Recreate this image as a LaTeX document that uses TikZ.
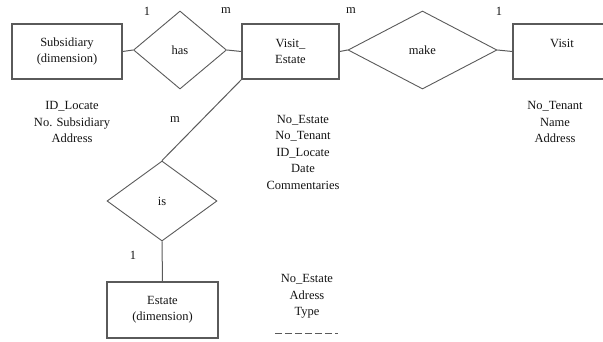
\documentclass[tikz,border=0pt]{standalone}
\usepackage{fontspec}
\setmainfont{Liberation Serif}
\usepackage{tikz}
\usetikzlibrary{shapes.geometric, positioning, calc}
\definecolor{erline}{RGB}{90, 90, 90}
\definecolor{ertext}{RGB}{20, 20, 20}
\tikzset{
  entity/.style={rectangle, draw=erline, line width=1.3pt, minimum width=#1,
                 minimum height=55pt, align=center, inner sep=0pt, text=ertext,
                 font=\fontsize{12.5}{16}\selectfont},
  entity/.default=110pt,
  relation/.style={diamond, draw=erline, line width=0.9pt, inner sep=0pt,
                   text=ertext, font=\fontsize{12.5}{16}\selectfont},
  attrs/.style={align=center, inner sep=0pt, text=ertext,
                font=\fontsize{12.5}{16.5}\selectfont},
  card/.style={inner sep=0pt, text=ertext, font=\fontsize{12.5}{14}\selectfont},
  link/.style={draw=erline, line width=1pt},
}

\begin{document}
\begin{tikzpicture}[x=1pt, y=-1pt]
        \useasboundingbox (0,0) rectangle (603,341);
        \clip (0,0) rectangle (603,341);
        % entities
        \node[entity=110pt] (sub) at (67,51.5) {Subsidiary\\(dimension)};
        \node[entity=97pt] (ve) at (290.5,51.5) {Visit\_\\Estate};
        \node[entity=98pt] (visit) at (562,51.5) {Visit\\\mbox{}};
        \node[entity=111pt, minimum height=56pt] (estate) at (162.5,310) {Estate\\(dimension)};
        % relations
        \node[relation, minimum width=93pt, minimum height=78pt] (has) at (180,50) {has};
        \node[relation, minimum width=149pt, minimum height=78pt] (make) at (422.5,50) {make};
        \node[relation, minimum width=110pt, minimum height=80pt] (is) at (162,201) {is};
        % connectors
        \draw[link] (sub.east) -- (has.west);
        \draw[link] (has.east) -- (ve.west);
        \draw[link] (ve.east) -- (make.west);
        \draw[link] (make.east) -- (visit.west);
        \draw[link] (ve.south west) -- (is.north);
        \draw[link] (is.south) -- (estate.north);
        % cardinalities
        \node[card] (c1) at (147,11) {1};
        \node[card] (c2) at (226,11) {m};
        \node[card] (c3) at (351,11) {m};
        \node[card] (c4) at (499,11) {1};
        \node[card] (c5) at (175,120) {m};
        \node[card] (c6) at (133,255) {1};
        % attributes
        \node[attrs] (subattr) at (72,122) {ID\_Locate\\No. Subsidiary\\Address};
        \node[attrs] (veattr) at (303,152) {No\_Estate\\No\_Tenant\\ID\_Locate\\Date\\Commentaries};
        \node[attrs] (visitattr) at (555,122) {No\_Tenant\\Name\\Address};
        \node[attrs] (estattr) at (307,296.5) {No\_Estate\\Adress\\Type};
        \coordinate (dl) at (275,333);
        \coordinate (dr) at (338,333);
        \draw[erline, line width=0.5pt, dash pattern=on 7pt off 3pt] (dl) -- (dr);
      \end{tikzpicture}
\end{document}
